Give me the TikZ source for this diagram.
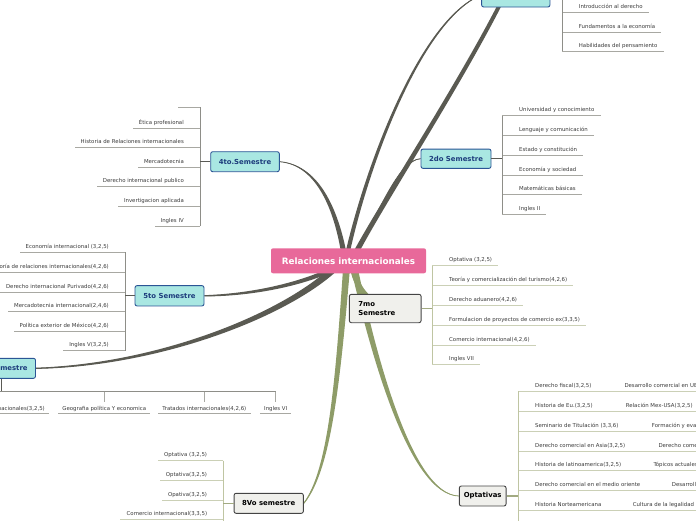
\documentclass[tikz,border=0pt]{standalone}
\usepackage{fontspec}
\setmainfont{DejaVu Sans}
\usetikzlibrary{calc}
\pgfdeclarelayer{bg}
\pgfsetlayers{bg,main}
\definecolor{branchgray}{HTML}{5A5A52}
\definecolor{branchol}{HTML}{8E9C68}
\definecolor{stemgray}{HTML}{5A5A55}
\definecolor{vertgray}{HTML}{8E8E88}
\definecolor{linegray}{HTML}{A8A8A2}
\definecolor{stemol}{HTML}{A2AA82}
\definecolor{vertol}{HTML}{BFC5A2}
\definecolor{lineol}{HTML}{CBD0B6}
\definecolor{cyanfill}{HTML}{A9E7E2}
\definecolor{cyanborder}{HTML}{2B5595}
\definecolor{cyantext}{HTML}{1D3C7C}
\definecolor{grayfill}{HTML}{F0F0EC}
\definecolor{grayborder}{HTML}{444444}
\definecolor{pinkfill}{HTML}{E8699A}
\definecolor{itemtext}{HTML}{3A3A3A}
\tikzset{
  item/.style={inner sep=0pt, font=\fontsize{5.4}{6}\selectfont, text=itemtext},
  semcyan/.style={draw=cyanborder, fill=cyanfill, line width=0.9pt, rounded corners=2pt, text=cyantext, font=\fontsize{6.9}{8}\selectfont\bfseries, inner sep=0pt, minimum height=20pt},
  semgray/.style={draw=grayborder, fill=grayfill, line width=0.9pt, rounded corners=2pt, text=black, font=\fontsize{6.9}{8.3}\selectfont\bfseries, inner sep=0pt, minimum height=20pt},
  central/.style={fill=pinkfill, rounded corners=2pt, text=white, font=\fontsize{8.8}{10}\selectfont\bfseries, inner sep=0pt, minimum width=155pt, minimum height=25pt},
  gstem/.style={draw=stemgray, line width=1.3pt},
  gvert/.style={draw=vertgray, line width=0.8pt},
  gline/.style={draw=linegray, line width=0.7pt},
  ostem/.style={draw=stemol, line width=1.3pt},
  overt/.style={draw=vertol, line width=0.8pt},
  oline/.style={draw=lineol, line width=0.7pt},
}
% tapered branch: colour, start, c1, c2, end, half-width vector, end factor
\newcommand{\taper}[7]{%
  \pgfmathsetmacro{\tka}{1-(1-#7)/3}%
  \pgfmathsetmacro{\tkb}{1-2*(1-#7)/3}%
  \fill[#1] ($#2+(#6)$) .. controls ($#3+\tka*(#6)$) and ($#4+\tkb*(#6)$) .. ($#5+#7*(#6)$)
    -- ($#5-#7*(#6)$) .. controls ($#4-\tkb*(#6)$) and ($#3-\tka*(#6)$) .. ($#2-(#6)$) -- cycle;
  \draw[#1, line width=0.8pt] #2 .. controls #3 and #4 .. #5;
}
% items to the right of a vertical line
\newcommand{\ritems}[4]{%
  \foreach \t/\u [count=\i] in {#4} {
    \coordinate (#1u\i) at (#2,\u);
    \node[item, anchor=base west] (#1t\i) at (#2+16.7,\u-3.8) {\t};
    \draw[#3] (#1u\i) -- ($(#1t\i.east |- #1u\i)+(6,0)$);
  }%
}
% items to the left of a vertical line
\newcommand{\litems}[4]{%
  \foreach \t/\u [count=\i] in {#4} {
    \coordinate (#1u\i) at (#2,\u);
    \node[item, anchor=base east] (#1t\i) at (#2-16,\u-3.8) {\t};
    \draw[#3] (#1u\i) -- ($(#1t\i.west |- #1u\i)+(-6,0)$);
  }%
}
\begin{document}
\begin{tikzpicture}[x=1pt,y=-1pt]
\useasboundingbox (0,0) rectangle (696,520);

% ---- nodes ----
\node[central] (cen) at (348.5,260.8) {Relaciones internacionales};
\node[semcyan, minimum width=68.3pt, minimum height=24pt] (n1) at (515.8,-5) {};
\node[semcyan, minimum width=70pt, minimum height=19.3pt] (n2) at (456,158.7) {2do Semestre};
\node[semcyan, minimum width=68.6pt] (n4) at (245,161.7) {4to.Semestre};
\node[semcyan, minimum width=69pt, minimum height=20.3pt] (n5) at (169.5,295.8) {5to Semestre};
\node[semcyan, minimum width=68pt] (n6) at (1.5,368.3) {6to Semestre};
\node[semgray, minimum width=71.7pt, minimum height=28.4pt, text width=53.7pt, inner xsep=9pt, align=left] (n7) at (385.2,308.5) {7mo\\Semestre};
\node[semgray, minimum width=46.7pt] (no) at (482.7,496) {Optativas};
\node[semgray, minimum width=69.3pt] (n8) at (268.7,503.3) {8Vo semestre};

% ---- 1er semestre (top) ----
\coordinate (onetop) at (562,-20);
\ritems{one}{562}{gline}{{Introducción al derecho}/12,{Fundamentos a la economía}/32,{Habilidades del pensamiento}/51}
\draw[gvert] (onetop) -- (oneu3);
\draw[gstem] (n1.east) -- (n1.east -| onetop);

% ---- 2do semestre ----
\ritems{two}{502.3}{gline}{{Universidad y conocimiento}/115.7,{Lenguaje y comunicación}/135,{Estado y constitución}/155,{Economía y sociedad}/175,{Matemáticas básicas}/194.3,{Ingles II}/214}
\draw[gvert] (twou1) -- (twou6);
\draw[gstem] (n2.east) -- (n2.east -| twou1);

% ---- 4to semestre ----
\coordinate (fourtop) at (200,107.3);
\draw[gline] (fourtop) -- ++(-22,0);
\litems{four}{200}{gline}{{Ética profesional}/128.3,{Historia de Relaciones internacionales}/147.7,{Mercadotecnia}/167.3,{Derecho internacional publico}/186.7,{Invertigacion aplicada}/206,{Ingles IV}/226}
\draw[gvert] (fourtop) -- (fouru6);
\draw[gstem] (n4.west) -- (n4.west -| fourtop);

% ---- 5to semestre ----
\litems{five}{125}{gline}{{Economía internacional (3,2,5)}/252.3,{Teoría de relaciones internacionales(4,2,6)}/272.3,{Derecho internacional Purivado(4,2,6)}/292.3,{Mercadotecnia internacional(2,4,6)}/311.7,{Política exterior de México(4,2,6)}/331.7,{Ingles V(3,2,5)}/350.7}
\draw[gvert] (fiveu1) -- (fiveu6);
\draw[gstem] (n5.west) -- (n5.west -| fiveu1);

% ---- 6to semestre (downward) ----
\coordinate (sixbar) at (-40,391.7);
\node[item, anchor=base east] (sixt1) at (45,410) {Organismos internacionales(3,2,5)};
\node[item, anchor=base] (sixt2) at (104.3,410) {Geografia política Y economica};
\node[item, anchor=base] (sixt3) at (204.3,410) {Tratados internacionales(4,2,6)};
\node[item, anchor=base] (sixt4) at (275.7,410) {Ingles VI};
\draw[gstem] (n6.south) -- (n6.south |- sixbar);
\draw[gvert] (sixbar) -- (sixt4.base |- sixbar);
\foreach \k in {1,2,3,4} {
  \draw[gline] (sixt\k.base |- sixbar) -- ++(0,10);
  \draw[gline] ([shift={(-4,3.5)}]sixt\k.base west) -- ([shift={(4,3.5)}]sixt\k.base east);
}

% ---- 7mo semestre ----
\ritems{seven}{432.3}{oline}{{Optativa (3,2,5)}/265.7,{Teoría y comercialización del turismo(4,2,6)}/285.7,{Derecho aduanero(4,2,6)}/305.7,{Formulacion de proyectos de comercio ex(3,3,5)}/325,{Comercio internacional(4,2,6)}/345,{Ingles VII}/364}
\draw[overt] (sevenu1) -- (sevenu6);
\draw[ostem] (n7.east) -- (n7.east -| sevenu1);

% ---- Optativas ----
\coordinate (optbot) at (518.3,530);
\foreach \t/\u/\xx/\s [count=\i] in {{Derecho fiscal(3,2,5)}/391/624.3/{Desarrollo comercial en UE(3,2,5)},{Historia de Eu.(3,2,5)}/411/625.7/{Relación Mex-USA(3,2,5)},{Seminario de Titulación (3,3,6)}/431/651.7/{Formación y evaluación},{Derecho comercial en Asia(3,2,5)}/451/658.3/{Derecho comercial},{Historia de latinoamerica(3,2,5)}/470/653.3/{Tópicos actuales},{Derecho comercial en el medio oriente}/490/671.7/{Desarrollo},{Historia Norteamericana}/510/632.7/{Cultura de la legalidad}} {
  \coordinate (optu\i) at (518.3,\u);
  \node[item, anchor=base west] (optt\i) at (535,\u-3.8) {\t};
  \node[item, anchor=base west] (opts\i) at (\xx,\u-3.8) {\s};
  \draw[oline] (optu\i) -- ($(optu\i)+(190,0)$);
}
\draw[overt] (optu1) -- (optbot);
\draw[ostem] (no.east) -- (no.east -| optu1);

% ---- 8vo semestre ----
\coordinate (eightbot) at (223.3,530);
\litems{eight}{223.3}{oline}{{Optativa (3,2,5)}/460.7,{Optativa(3,2,5)}/480.7,{Opativa(3,2,5)}/500,{Comercio internacional(3,3,5)}/519.3}
\draw[overt] (eightu1) -- (eightbot);
\draw[ostem] (n8.west) -- (n8.west -| eightu1);

% ---- branches ----
\begin{pgfonlayer}{bg}
\coordinate (bsA) at (346,260);
\coordinate (bsB) at (352,260);
\coordinate (bsC) at (345,260);
\coordinate (bsD) at (335,268);
\coordinate (bsE) at (353,262);
\coordinate (bsF) at (347,262);
\coordinate (upend) at (513,-22);
\taper{branchgray}{(bsA)}{(365,170)}{(420,20)}{(n1.west)}{2.2,0}{0.3}
\taper{branchgray}{(bsB)}{(380,205)}{(470,70)}{(upend)}{3,0}{0.7}
\taper{branchgray}{(bsB)}{(380,215)}{(398,160)}{(n2.west)}{1.8,0}{0.35}
\taper{branchgray}{(bsC)}{(338,215)}{(320,165)}{(n4.east)}{2.8,0}{0.25}
\taper{branchgray}{(bsD)}{(300,285)}{(250,295)}{(n5.east)}{0,2.6}{0.25}
\taper{branchgray}{(bsD)}{(285,315)}{(160,365)}{(n6.east)}{1.8,2.9}{0.2}
\taper{branchol}{(bsE)}{(354,280)}{(358,292)}{(n7.center)}{3.5,0}{0.6}
\taper{branchol}{(bsE)}{(372,350)}{(410,495)}{(no.west)}{3.5,0}{0.15}
\taper{branchol}{(bsF)}{(338,380)}{(330,470)}{(n8.east)}{3.5,0}{0.15}
\end{pgfonlayer}
\end{tikzpicture}
\end{document}
